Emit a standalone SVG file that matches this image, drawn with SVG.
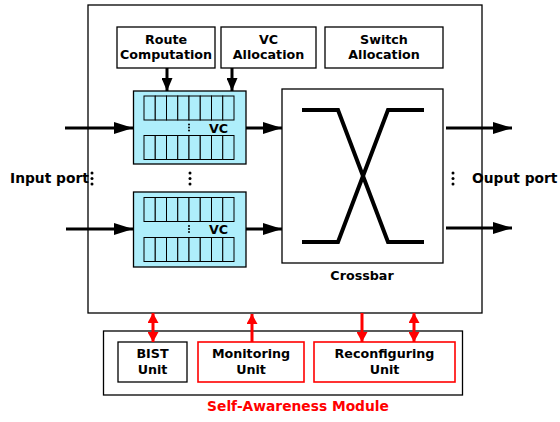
<svg xmlns="http://www.w3.org/2000/svg" width="560" height="422" viewBox="0 0 560 422">
  <style>
    .box { fill: #ffffff; stroke: #000000; stroke-width: 1.3; }
    .rbox { fill: #ffffff; stroke: #ff0000; stroke-width: 1.6; }
    .buf { fill: #aeeefb; stroke: #000000; stroke-width: 1.3; }
    .cell { fill: #aeeefb; stroke: #000000; stroke-width: 1; }
    .lbl { font-family: "DejaVu Sans", Verdana, sans-serif; font-weight: bold; font-size: 12.7px; fill: #000000; text-anchor: middle; }
    .port { font-family: "DejaVu Sans", Verdana, sans-serif; font-weight: bold; font-size: 13.8px; fill: #000000; }
    .red-t { font-family: "DejaVu Sans", Verdana, sans-serif; font-weight: bold; font-size: 13.8px; fill: #ff0000; text-anchor: middle; }
    .arr { stroke: #000000; stroke-width: 3; fill: none; }
    .rarr { stroke: #ff0000; stroke-width: 3; fill: none; }
    .xbar { stroke: #000000; stroke-width: 4; fill: none; }
  </style>
  <defs>
    <marker id="ahH" markerUnits="userSpaceOnUse" markerWidth="20" markerHeight="12" refX="19" refY="6" orient="auto">
      <path d="M0,0 L19,6 L0,12 z" fill="#000000"/>
    </marker>
    <marker id="ahV" markerUnits="userSpaceOnUse" markerWidth="14" markerHeight="11" refX="13" refY="5.5" orient="auto">
      <path d="M0,0 L13,5.5 L0,11 z" fill="#000000"/>
    </marker>
    <marker id="ahR" markerUnits="userSpaceOnUse" markerWidth="11" markerHeight="11" refX="10" refY="5.5" orient="auto">
      <path d="M0,0 L10,5.5 L0,11 z" fill="#ff0000"/>
    </marker>
    <marker id="ahRs" markerUnits="userSpaceOnUse" markerWidth="11" markerHeight="11" refX="0" refY="5.5" orient="auto">
      <path d="M10,0 L0,5.5 L10,11 z" fill="#ff0000"/>
    </marker>
    <!-- one row of eight flit slots -->
    <g id="row">
      <rect class="cell" x="0" y="0" width="11.25" height="24"/>
      <rect class="cell" x="11.25" y="0" width="11.25" height="24"/>
      <rect class="cell" x="22.5" y="0" width="11.25" height="24"/>
      <rect class="cell" x="33.75" y="0" width="11.25" height="24"/>
      <rect class="cell" x="45" y="0" width="11.25" height="24"/>
      <rect class="cell" x="56.25" y="0" width="11.25" height="24"/>
      <rect class="cell" x="67.5" y="0" width="11.25" height="24"/>
      <rect class="cell" x="78.75" y="0" width="11.25" height="24"/>
    </g>
    <g id="vdots">
      <circle cx="0" cy="0" r="1.5"/>
      <circle cx="0" cy="5.5" r="1.5"/>
      <circle cx="0" cy="11" r="1.5"/>
    </g>
    <g id="sdots">
      <circle cx="0" cy="0" r="1"/>
      <circle cx="0" cy="3" r="1"/>
      <circle cx="0" cy="6" r="1"/>
    </g>
  </defs>

  <rect width="560" height="422" fill="#ffffff"/>

  <!-- router frame -->
  <g id="router">
    <rect class="box" x="88" y="5" width="394" height="308"/>
  </g>

  <!-- control stages -->
  <g id="route-computation">
    <rect class="box" x="117" y="27" width="98" height="41"/>
    <text class="lbl" x="166" y="44">Route</text>
    <text class="lbl" x="166" y="59">Computation</text>
  </g>
  <g id="vc-allocation">
    <rect class="box" x="221" y="27" width="95" height="41"/>
    <text class="lbl" x="268.5" y="44">VC</text>
    <text class="lbl" x="268.5" y="59">Allocation</text>
  </g>
  <g id="switch-allocation">
    <rect class="box" x="325" y="27" width="118" height="41"/>
    <text class="lbl" x="384" y="44">Switch</text>
    <text class="lbl" x="384" y="59">Allocation</text>
  </g>

  <!-- input buffers -->
  <g id="buffer-1">
    <rect class="buf" x="133.5" y="91" width="112.5" height="73"/>
    <use href="#row" x="144" y="96"/>
    <use href="#row" x="144" y="135.5"/>
    <use href="#sdots" x="189" y="124.5"/>
    <text class="lbl" x="218.5" y="133">VC</text>
  </g>
  <g id="buffer-2">
    <rect class="buf" x="133.5" y="192" width="112.5" height="75"/>
    <use href="#row" x="144" y="197.5"/>
    <use href="#row" x="144" y="237.5"/>
    <use href="#sdots" x="189" y="226"/>
    <text class="lbl" x="218.5" y="234">VC</text>
  </g>

  <!-- crossbar -->
  <g id="crossbar">
    <rect class="box" x="282" y="89" width="161" height="174"/>
    <path class="xbar" d="M302,110 H338 L388,242 H424"/>
    <path class="xbar" d="M302,242 H338 L388,110 H424"/>
    <text class="lbl" x="362" y="280">Crossbar</text>
  </g>

  <!-- port labels -->
  <g id="input-port">
    <text class="port" x="10" y="183">Input port</text>
    <use href="#vdots" x="92" y="173"/>
  </g>
  <use href="#vdots" x="190" y="173"/>
  <g id="output-port">
    <use href="#vdots" x="453" y="173"/>
    <text class="port" x="472" y="183">Ouput port</text>
  </g>

  <!-- self-awareness module -->
  <g id="self-awareness-module">
    <rect class="box" x="103.5" y="331" width="359" height="64"/>
    <text class="red-t" x="298" y="411">Self-Awareness Module</text>
  </g>
  <g id="bist-unit">
    <rect class="box" x="118" y="342" width="69" height="40"/>
    <text class="lbl" x="152.5" y="358">BIST</text>
    <text class="lbl" x="152.5" y="374">Unit</text>
  </g>
  <g id="monitoring-unit">
    <rect class="rbox" x="198" y="342" width="106" height="40"/>
    <text class="lbl" x="251" y="358">Monitoring</text>
    <text class="lbl" x="251" y="374">Unit</text>
  </g>
  <g id="reconfiguring-unit">
    <rect class="rbox" x="314" y="342" width="141" height="40"/>
    <text class="lbl" x="384.5" y="358">Reconfiguring</text>
    <text class="lbl" x="384.5" y="374">Unit</text>
  </g>

  <!-- connectors -->
  <g id="connectors">
    <line class="arr" x1="65" y1="128" x2="133" y2="128" marker-end="url(#ahH)"/>
    <line class="arr" x1="66" y1="229" x2="133" y2="229" marker-end="url(#ahH)"/>
    <line class="arr" x1="246" y1="128" x2="282" y2="128" marker-end="url(#ahH)"/>
    <line class="arr" x1="246" y1="229" x2="282" y2="229" marker-end="url(#ahH)"/>
    <line class="arr" x1="446" y1="128" x2="512" y2="128" marker-end="url(#ahH)"/>
    <line class="arr" x1="446" y1="228" x2="512" y2="228" marker-end="url(#ahH)"/>
    <line class="arr" x1="167" y1="68" x2="167" y2="91" marker-end="url(#ahV)"/>
    <line class="arr" x1="232" y1="68" x2="232" y2="91" marker-end="url(#ahV)"/>
    <line class="rarr" x1="153" y1="313" x2="153" y2="342" marker-start="url(#ahRs)" marker-end="url(#ahR)"/>
    <line class="rarr" x1="252" y1="342" x2="252" y2="314" marker-end="url(#ahR)"/>
    <line class="rarr" x1="362" y1="313" x2="362" y2="342" marker-end="url(#ahR)"/>
    <line class="rarr" x1="414" y1="313" x2="414" y2="342" marker-start="url(#ahRs)" marker-end="url(#ahR)"/>
  </g>
</svg>
